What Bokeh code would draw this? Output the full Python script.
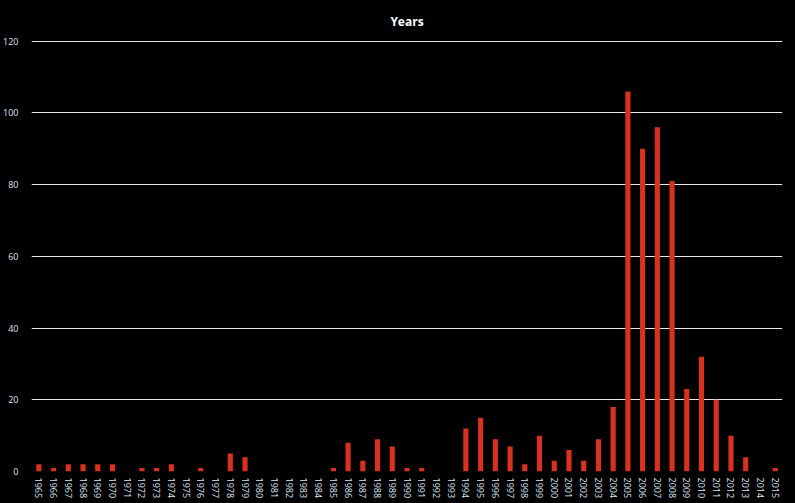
from bokeh.plotting import figure
from bokeh.embed import file_html
from bokeh.resources import INLINE
from bokeh.models import ColumnDataSource, FixedTicker

years = [str(y) for y in range(1965, 2016)]
counts = [2, 1, 2, 2, 2, 2, 0, 1, 1, 2, 0, 1, 0, 5, 4,
          0, 0, 0, 0, 0, 1, 8, 3, 9, 7, 1, 1, 0, 0, 12,
          15, 9, 7, 2, 10, 3, 6, 3, 9, 18, 106, 90, 96, 81, 23,
          32, 20, 10, 4, 0, 1]
y_ticks = [0, 20, 40, 60, 80, 100, 120]

src = ColumnDataSource(dict(year=years, count=counts))

p = figure(x_range=years, y_range=(0, 120.5), width=795, height=503,
           output_backend="svg", toolbar_location=None,
           min_border_left=29, min_border_right=13, min_border_top=38,
           min_border_bottom=32, title="Years")

p.vbar(x="year", top="count", width=0.35, source=src,
       fill_color="#d9301f", line_color=None)

p.background_fill_color = "black"
p.border_fill_color = "black"
p.outline_line_color = None

p.title.align = "center"
p.title.text_color = "white"
p.title.text_font = "Open Sans"
p.title.text_font_size = "12px"
p.title.text_font_style = "bold"
p.title.text_line_height = 1.0
p.title.standoff = 20

p.xgrid.grid_line_color = None
p.ygrid.grid_line_color = "#e6e6e6"
p.ygrid.grid_line_width = 1
p.yaxis.ticker = FixedTicker(ticks=y_ticks)

for ax in (p.xaxis, p.yaxis):
    ax.axis_line_color = None
    ax.major_tick_line_color = None
    ax.minor_tick_line_color = None
    ax.major_label_text_color = "#dce6f2"
    ax.major_label_text_font = "Open Sans"

p.yaxis.major_label_text_font_size = "9px"
p.yaxis.major_label_standoff = 7
p.xaxis.major_label_text_font_size = "9px"
p.xaxis.major_label_orientation = "vertical"
p.xaxis.major_label_standoff = 0

html = file_html(p, INLINE)
html = html.replace("<head>", "<head><style>html,body{margin:0;padding:0;background:#000;overflow:hidden}</style>", 1)
open("out.html", "w").write(html)
